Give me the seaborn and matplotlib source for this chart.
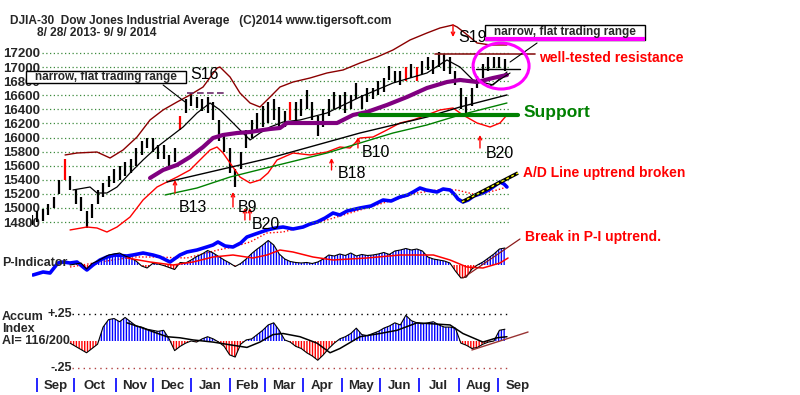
import numpy as np
import matplotlib
matplotlib.use("Agg")
import matplotlib.pyplot as plt
from matplotlib.patches import Rectangle, Ellipse
import seaborn as sns

# --- data (trading-day index, 0 = 8/28/2013) ---
bar_day = np.arange(0, 259, 3)
price_lo = [14760, 14800, 14820, 14900, 15000, 15200, 15400, 15250, 15050, 14950,
            14720, 14850, 15050, 15150, 15300, 15350, 15400, 15450, 15500, 15600,
            15750, 15850, 15800, 15700, 15700, 15550, 15650, 16100, 16350, 16450,
            16420, 16380, 16350, 16250, 15950, 15800, 15500, 15300, 15550, 15850,
            16000, 16100, 16150, 16200, 16250, 16110, 16150, 16250, 16200, 16300,
            16400, 16250, 16015, 16150, 16300, 16400, 16400, 16350, 16400, 16550,
            16400, 16500, 16550, 16600, 16650, 16820, 16780, 16750, 16800, 16850,
            16800, 16900, 16960, 16900, 17000, 16950, 16900, 16750, 16400, 16330,
            16450, 16700, 16850, 16950, 16980, 16980, 16950]
price_hi = [14900, 14950, 14980, 15050, 15150, 15400, 15700, 15450, 15250, 15150,
            14950, 15050, 15250, 15350, 15450, 15550, 15600, 15650, 15700, 15850,
            15950, 16000, 16000, 15900, 15900, 15750, 15850, 16300, 16550, 16630,
            16580, 16550, 16580, 16500, 16250, 16050, 15850, 15550, 15800, 16100,
            16250, 16350, 16450, 16500, 16540, 16440, 16380, 16500, 16500, 16550,
            16680, 16500, 16300, 16400, 16550, 16640, 16600, 16640, 16600, 16770,
            16600, 16700, 16700, 16800, 16850, 17010, 16950, 16950, 17000, 17050,
            17000, 17080, 17150, 17100, 17220, 17180, 17150, 16950, 16700, 16580,
            16700, 16880, 17050, 17150, 17150, 17150, 17120]
red_bar_days = [18, 81, 141, 204, 210]

upper_day = [18.3, 24.8, 35.7, 42.8, 49.9, 57.5, 64.6, 71.7, 79.3, 86.4, 93.5, 101.1, 102.7,
             108.2, 113.6, 119.1, 124.5, 130, 135.4, 142.5, 151.8, 161, 169.8, 179, 188.3,
             197, 206.3, 215.5, 222.6, 229.7, 231.9, 236.2, 242.8, 250, 259]
upper_band = [15752, 15780, 15794, 15709, 15823, 16007, 16249, 16391, 16504, 16604, 16717,
              16987, 17001, 16859, 16632, 16490, 16433, 16575, 16717, 16788, 16845, 16916,
              16959, 17058, 17143, 17243, 17385, 17484, 17555, 17598, 17570, 17484, 17342,
              17314, 17314]
lower_day = [21, 30.2, 35.7, 41.1, 46.6, 53.7, 60.8, 68.4, 73.8, 79.3, 86.4, 91.8, 97.3,
             101.1, 104.4, 108.2, 113.6, 119.1, 124.5, 128.9, 133.8, 142.5, 151.8, 161,
             168.1, 173.6, 179, 186.1, 193.7, 200.8, 207.9, 215.5, 222.6, 229.7, 235.1,
             242.8, 249.9, 255.3, 259.1]
lower_band = [14687, 14729, 14715, 14658, 14729, 14871, 15113, 15297, 15368, 15439, 15539,
              15681, 15823, 15865, 15780, 15638, 15439, 15354, 15397, 15496, 15681, 15780,
              15752, 15794, 15865, 15851, 15993, 16007, 16107, 16206, 16249, 16320, 16391,
              16419, 16320, 16206, 16149, 16206, 16320]
ma21_day = [22.6, 31.9, 35.7, 41.1, 46.6, 53.7, 60.8, 68.4, 75.5, 82.6, 90.2, 97.3, 102.7,
            108.2, 113.6, 119.1, 124.5, 130, 137.1, 146.3, 161, 179, 197, 215.5, 226.4,
            233.5, 240.6, 251.5, 259.1]
ma21 = [15255, 15297, 15212, 15212, 15297, 15496, 15681, 15865, 16007, 16149, 16348, 16490,
        16391, 16249, 16107, 15965, 16064, 16149, 16220, 16249, 16348, 16575, 16774, 16916,
        17101, 17001, 16817, 16746, 16930]
ma65_day = [64.6, 71.7, 79.3, 86.4, 93.5, 98.9, 104.4, 112, 119.1, 126.2, 130, 135.4, 139.2,
            151.8, 166.5, 175.2, 182.8, 193.7, 204.6, 215.5, 226.4, 233.5, 242.8, 251.5, 259.1]
ma65 = [15425, 15539, 15610, 15723, 15865, 15993, 16036, 16064, 16078, 16107, 16121, 16135,
        16206, 16206, 16206, 16320, 16362, 16462, 16575, 16703, 16788, 16817, 16788, 16845,
        16888]
green_day = [72.8, 90.2, 108.2, 130, 161, 179, 197, 215.5, 233.5, 259.1]
green_ma = [15184, 15283, 15439, 15581, 15780, 15922, 16064, 16178, 16320, 16490]
black_day = [73.8, 130, 179, 215.5, 233.5, 259.1]
black_ma = [15368, 15709, 16064, 16291, 16433, 16604]

ad_day = [0.8, 6.3, 10.1, 14.4, 17.2, 21, 24.8, 28.1, 30.2, 33.5, 37.3, 41.1, 45.5, 52, 55.3,
          60.8, 66.2, 70, 75.5, 80.9, 84.7, 90.2, 95.5, 98.9, 101.6, 105.5, 109.8, 114, 117.4,
          122, 128.3, 133, 137.1, 142.5, 148, 151.8, 155.6, 160, 164.3, 168, 172, 179, 185,
          191.6, 196, 200.8, 205, 208, 211.7, 215, 218, 221, 224.3, 228.1, 230.8, 232.4,
          235.1, 238, 241, 246, 250, 253, 255.3, 257.5, 259.1]
ad_line = [25, 28, 27, 37, 38, 37, 38, 33, 30, 35, 40, 43, 45, 44, 45, 47, 45, 43, 38, 45, 48,
           50, 53, 55, 58, 54, 53, 57, 63, 66, 70, 72, 73, 71, 73, 76, 78, 82, 87, 85, 89, 92,
           94, 100, 99, 103, 105, 108, 112, 110, 109, 108, 111, 110, 105, 101, 98, 100, 104,
           107, 111, 115, 118, 116, 113]
ad_ma_day = [21, 37.3, 55.3, 66.2, 84.7, 101.6, 109.8, 119.1, 128.3, 137.1, 155.6, 173.6,
             191.6, 210.1, 221, 231.9, 242.8, 253.7, 259.1]
ad_ma = [33, 38, 43, 43, 42, 50, 53, 58, 67, 68, 77, 87, 97, 107, 110, 110, 105, 110, 113]

ind_day = np.arange(21, 259, 3)
p_indicator = [0, 10, 20, -40, 15, 40, 70, 100, 110, 120,
               90, 70, 40, -10, -30, 15, 10, -5, -25, -45,
               25, 20, 50, 85, 110, 145, 120, 85, 50, 20,
               -15, 15, 60, 115, 160, 200, 245, 200, 110, 60,
               35, 25, 20, 25, 15, 30, 60, 100, 90, 110,
               95, 120, 90, 105, 95, 100, 110, 125, 105, 140,
               150, 165, 150, 160, 140, 80, 60, 50, 40, 20,
               -60, -130, -120, -40, 0, 30, 70, 110, 160, 170]
pi_ma_day = [52, 64.6, 77.1, 88, 98.9, 109.8, 120.7, 128.3, 135.4, 142.5, 153.4, 164.3,
             182.8, 200.8, 219, 228.1, 237.3, 246, 255.3, 259.7]
pi_ma = [70, 30, 0, 30, 80, 100, 70, 100, 150, 130, 80, 50, 70, 100, 100, 50, -20, -30, 20, 70]

accum_index = [-0.02, -0.05, -0.08, -0.11, -0.07, -0.03, 0.13, 0.20, 0.21, 0.18,
               0.22, 0.18, 0.14, 0.13, 0.11, 0.10, 0.09, 0.10, 0.02, -0.09,
               -0.05, -0.02, 0.0, -0.01, 0.02, 0.04, 0.02, -0.01, -0.05, -0.13,
               -0.15, -0.03, 0.01, 0.02, 0.06, 0.10, 0.15, 0.17, 0.10, 0.01,
               -0.01, -0.05, -0.07, -0.11, -0.14, -0.18, -0.13, -0.07, -0.02, 0.02,
               0.04, 0.07, 0.12, 0.06, 0.05, 0.07, 0.09, 0.12, 0.14, 0.17,
               0.15, 0.24, 0.19, 0.17, 0.16, 0.17, 0.18, 0.15, 0.13, 0.13,
               0.12, -0.02, -0.04, -0.07, -0.06, -0.03, -0.01, 0.0, 0.10, 0.11]
ai_ma_day = [52, 59.1, 73.8, 80.9, 88, 98.9, 109.8, 117.4, 124.5, 131.6, 137.1, 146.3, 155.6,
             162.7, 168.1, 179, 189.9, 199.2, 210.1, 228.1, 235.1, 246, 253.7, 259.1]
ai_ma = [0.17, 0.13, 0.04, 0.03, 0.01, -0.01, -0.04, -0.06, -0.01, 0.06, 0.07, 0.04, -0.02,
         -0.11, -0.07, 0.04, 0.07, 0.10, 0.17, 0.15, 0.07, -0.01, 0.03, 0.04]

month_names = ["Sep", "Oct", "Nov", "Dec", "Jan", "Feb", "Mar", "Apr", "May", "Jun", "Jul", "Aug", "Sep"]
month_start = [3, 23, 46, 66, 87, 108, 127, 148, 169, 190, 211, 233, 254]
price_ticks = list(range(14800, 17201, 200))

# --- figure ---
sns.set_style("white")
plt.rcParams['font.family'] = ['Liberation Sans', 'DejaVu Sans']

W, H = 800, 395
X0, PX_PER_DAY = 31.5, 1.835
XMAX = (W - X0) / PX_PER_DAY
fig = plt.figure(figsize=(8, 3.95), dpi=100)
fig.patch.set_facecolor('white')


def panel(top, bottom):
    ax = fig.add_axes([X0 / W, 1 - bottom / H, 1 - X0 / W, (bottom - top) / H])
    ax.set_facecolor('none')
    ax.set_xlim(0, XMAX)
    for s in ax.spines.values():
        s.set_visible(False)
    ax.set_xticks([])
    ax.set_yticks([])
    return ax


def line(ax, xs, ys, **kw):
    sns.lineplot(x=xs, y=ys, ax=ax, legend=False, sort=False, estimator=None, **kw)


ax_ad = panel(0, 300)
ax_pi = panel(200, 300)
ax_ai = panel(290, 375)
ax_m = panel(375, 395)
ax_p = panel(0, 240)

# --- A/D line ---
line(ax_ad, ad_ma_day, ad_ma, color='red', linewidth=1, linestyle=(0, (1, 1.5)))
line(ax_ad, ad_day, ad_line, color='#0000ff', linewidth=2.6)
ax_ad.plot([234.6, 265.1], [98, 127], color='black', lw=2.6, solid_capstyle='butt')
ax_ad.plot([234.6, 265.1], [98, 127], color='yellow', lw=1, linestyle=(0, (2, 2)))
ax_ad.text(267.8, 127, "A/D Line uptrend broken", color='red', fontsize=10,
           fontweight='bold', va='center', ha='left')
ax_ad.set_ylim(0, 300)

# --- P-Indicator ---
pi = np.array(p_indicator, dtype=float)
ax_pi.fill_between(ind_day, 0, pi, where=pi >= 0, interpolate=True, facecolor='none',
                   edgecolor='#0000ff', hatch='||||||', linewidth=0)
ax_pi.fill_between(ind_day, 0, pi, where=pi < 0, interpolate=True, facecolor='none',
                   edgecolor='red', hatch='||||||', linewidth=0)
line(ax_pi, ind_day, pi, color='black', linewidth=0.8)
line(ax_pi, pi_ma_day, pi_ma, color='red', linewidth=1.1)
ax_pi.plot([235.1, 266.2], [-130, 260], color='#8b1a1a', lw=0.9)
ax_pi.text(268.9, 280, "Break in P-I uptrend.", color='red', fontsize=10,
           fontweight='bold', va='center', ha='left')
ax_pi.set_ylim(-350, 650)

# --- Accumulation Index ---
ai = np.array(accum_index)
ax_ai.fill_between(ind_day, 0, ai, where=ai >= 0, interpolate=True, facecolor='none',
                   edgecolor='#0000ff', hatch='||||||', linewidth=0)
ax_ai.fill_between(ind_day, 0, ai, where=ai < 0, interpolate=True, facecolor='none',
                   edgecolor='red', hatch='||||||', linewidth=0)
line(ax_ai, ind_day, ai, color='black', linewidth=0.8)
line(ax_ai, ai_ma_day, ai_ma, color='black', linewidth=1.1)
ax_ai.hlines(0.25, 22, 259, color='black', lw=1, linestyle=(0, (1, 3)))
ax_ai.hlines(-0.25, 22, 259, color='#b04040', lw=1, linestyle=(0, (1, 3)))
ax_ai.plot([240, 270.6], [-0.084, 0.084], color='#993333', lw=1)
ax_ai.text(22, 0.25, "+.25", fontsize=9, fontweight='bold', ha='right', va='center')
ax_ai.text(22, -0.25, "-.25", fontsize=9, fontweight='bold', ha='right', va='center')
ax_ai.set_ylim(-0.3178, 0.4766)

# --- months ---
ax_m.vlines(month_start, 0.15, 0.85, color='#0000ff', lw=1.2)
mids = [(a + b) / 2 for a, b in zip(month_start[:-1], month_start[1:])] + [month_start[-1] + 11]
for m, xm in zip(month_names, mids):
    ax_m.text(xm, 0.45, m, fontsize=9.5, fontweight='bold', ha='center', va='center')
ax_m.set_ylim(0, 1)

# --- price panel ---
ax_p.hlines(price_ticks, 5.7, 260, color='#3c8a3c', lw=0.9, linestyle=(0, (1, 2)))
colors = ['red' if d in red_bar_days else 'black' for d in bar_day]
ax_p.vlines(bar_day, price_lo, price_hi, colors=colors, lw=1.6)
line(ax_p, upper_day, upper_band, color='#8b0000', linewidth=1)
line(ax_p, lower_day, lower_band, color='red', linewidth=1)
line(ax_p, ma21_day, ma21, color='black', linewidth=0.9)
line(ax_p, black_day, black_ma, color='black', linewidth=1)
line(ax_p, green_day, green_ma, color='green', linewidth=1)
line(ax_p, ma65_day, ma65, color='#800080', linewidth=3)

# resistance / support lines
ax_p.plot([84.7, 106.5], [16630, 16630], color='#6a2a6a', lw=1.2, linestyle=(0, (4, 2)))
ax_p.plot([219.9, 274.4], [17190, 17190], color='#8b1a1a', lw=1.2)
ax_p.plot([242.2, 266.2], [16973, 16973], color='black', lw=1)
ax_p.plot([179, 265.1], [16320, 16320], color='#008000', lw=3)
ax_p.plot([249.9, 260.8], [16731, 16916], color='black', lw=0.8)
ax_p.plot([71.7, 83.7], [16746, 16504], color='black', lw=0.8)
ax_p.plot([260.8, 275.5], [17072, 17342], color='black', lw=0.8)

# signal arrows
arrow_up = [(78.2, 15212, 15397), (109.8, 15013, 15226), (116.3, 14829, 14999),
            (119.0, 14829, 14999), (163.5, 15539, 15709), (177.9, 15851, 16007),
            (244.4, 15851, 16036)]
arrow_style = dict(arrowstyle='->', color='red', lw=1, shrinkA=0, shrinkB=0, mutation_scale=6)
for xa, y0, y1 in arrow_up:
    ax_p.annotate('', xy=(xa, y1), xytext=(xa, y0), arrowprops=arrow_style)
ax_p.annotate('', xy=(229.7, 17427), xytext=(229.7, 17598), arrowprops=arrow_style)

signals = [("B13", 80.4, 14999), ("B9", 112.5, 14999), ("B20", 120.2, 14758),
           ("B18", 167, 15496), ("B10", 180.1, 15794), ("B20", 247.7, 15780),
           ("S16", 86.4, 16888), ("S19", 232.4, 17427)]
for s, xs, ys in signals:
    ax_p.text(xs, ys, s, fontsize=11.5, ha='left', va='center', color='black')

# boxes and circle
ax_p.add_patch(Rectangle((-3.0, 16774), 87.2, 170, facecolor='white', edgecolor='black',
                         lw=1, zorder=6, clip_on=False))
ax_p.text(40.6, 16859, "narrow, flat trading range", fontsize=8.5, fontweight='bold',
          ha='center', va='center', zorder=7)
ax_p.add_patch(Rectangle((247.1, 17385), 87.2, 213, facecolor='white', edgecolor='black',
                         lw=1, zorder=6, clip_on=False))
ax_p.plot([247.1, 334.3], [17399, 17399], color='#ff00ff', lw=3, zorder=7,
          solid_capstyle='butt')
ax_p.text(290.7, 17505, "narrow, flat trading range", fontsize=8.5, fontweight='bold',
          ha='center', va='center', zorder=7)
ax_p.add_patch(Ellipse((255.9, 17015), 30.5, 653, facecolor='none', edgecolor='#ff00ff',
                       lw=2.2, zorder=6))
ax_p.text(276.6, 17129, "well-tested resistance", color='red', fontsize=10,
          fontweight='bold', ha='left', va='center')
ax_p.text(268.4, 16362, "Support", color='#008000', fontsize=12.5,
          fontweight='bold', ha='left', va='center')

ax_p.set_ylim(14544.6, 17952.6)
ax_p.set_yticks(price_ticks)
ax_p.set_yticklabels([str(t) for t in price_ticks], fontweight='bold', fontsize=9.5)
ax_p.tick_params(axis='y', length=0, pad=-6.1)

# header and panel labels
fig.text(10 / W, 1 - 21 / H, "DJIA-30  Dow Jones Industrial Average   (C)2014 www.tigersoft.com",
         fontsize=8.6, fontweight='bold', va='center', ha='left')
fig.text(37 / W, 1 - 33 / H, "8/ 28/ 2013- 9/ 9/ 2014", fontsize=8.6, fontweight='bold',
         va='center', ha='left')
fig.text(2 / W, 1 - 263 / H, "P-Indicator", fontsize=9, fontweight='bold', va='center')
fig.text(2 / W, 1 - 317 / H, "Accum", fontsize=9, fontweight='bold', va='center')
fig.text(2 / W, 1 - 329 / H, "Index", fontsize=9, fontweight='bold', va='center')
fig.text(2 / W, 1 - 341 / H, "AI= 116/200", fontsize=9, fontweight='bold', va='center')

fig.savefig("out.png", dpi=100)
